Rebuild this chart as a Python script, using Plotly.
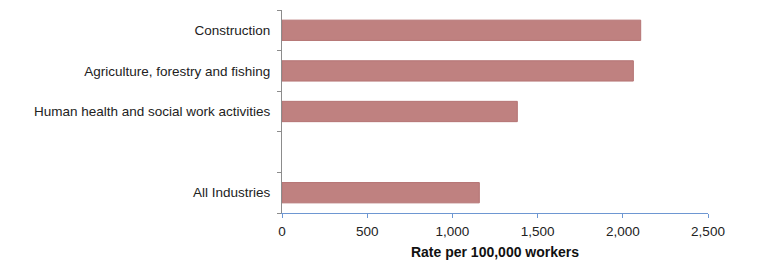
import plotly.graph_objects as go

categories = ["Construction", "Agriculture, forestry and fishing",
              "Human health and social work activities", " ", "All Industries"]
values = [2105, 2062, 1381, None, 1158]
x_ticks = [0, 500, 1000, 1500, 2000, 2500]
x_tick_labels = ["0", "500", "1,000", "1,500", "2,000", "2,500"]

fig = go.Figure(go.Bar(
    y=categories, x=values, orientation="h", width=0.5,
    marker=dict(color="#BF8180", line=dict(color="#B57474", width=1)),
))

fig.update_layout(
    width=768, height=275,
    margin=dict(l=282, r=60, t=10, b=62),
    paper_bgcolor="white", plot_bgcolor="white",
    font=dict(family="Liberation Sans, Arial, sans-serif", size=13.5, color="#222222"),
    showlegend=False,
    xaxis=dict(
        range=[0, 2500], tickvals=x_ticks, ticktext=x_tick_labels,
        showgrid=False, zeroline=False,
        showline=True, linecolor="#6E97D2", linewidth=1,
        ticks="outside", ticklen=4, tickcolor="#6E97D2",
        ticklabelstandoff=2,
        title=dict(text="<b>Rate per 100,000 workers</b>", standoff=8,
                   font=dict(size=14, color="#111111")),
    ),
    yaxis=dict(
        categoryorder="array", categoryarray=categories,
        autorange="reversed",
        showgrid=False, zeroline=False,
        showline=True, linecolor="#8C8C8C", linewidth=1,
        ticks="outside", ticklen=4, tickcolor="#8C8C8C",
        tickmode="array", tickvals=categories,
        ticklabelstandoff=8,
        tickson="boundaries",
    ),
)

fig.write_html("out.html")
